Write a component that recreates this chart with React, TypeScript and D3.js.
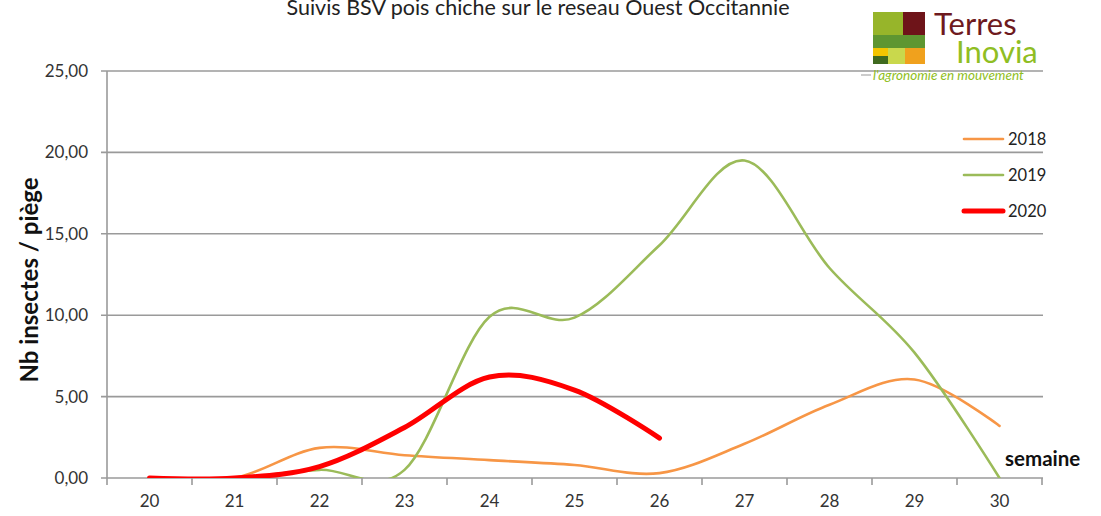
import React from "react";
import * as d3 from "d3";

const weeks = ["20", "21", "22", "23", "24", "25", "26", "27", "28", "29", "30"];
const s2018 = [0, 0, 1.85, 1.4, 1.1, 0.8, 0.3, 2.1, 4.5, 6.05, 3.2];
const s2019 = [0, 0, 0.5, 0.5, 9.9, 9.85, 14.3, 19.5, 12.9, 7.7, 0];
const s2020 = [0, 0, 0.7, 3.1, 6.2, 5.4, 2.45];
const yTicks = [0, 5, 10, 15, 20, 25];
const seriesNames = ["2018", "2019", "2020"];
const seriesColors = ["#F79646", "#9BBB59", "#FF0000"];
const seriesWidths = [2.6, 2.6, 5];

const W = 1101;
const H = 516;
const FONT = "Lato, 'Open Sans', sans-serif";

export default function App() {
  const x = d3.scaleBand<string>().domain(weeks).range([107, 1042]).padding(0);
  const y = d3.scaleLinear().domain([0, 25]).range([478, 71]);
  const cx = (w: string) => (x(w) as number) + x.bandwidth() / 2;
  const line = d3
    .line<number>()
    .x((_, i) => cx(weeks[i]))
    .y((d) => y(d))
    .curve(d3.curveCatmullRom.alpha(0));
  const series = [s2018, s2019, s2020];
  const boundaries = d3.range(weeks.length + 1).map((i) => 107 + i * x.bandwidth());
  const fmt = (v: number) => v.toFixed(2).replace(".", ",");

  return (
    <svg width={W} height={H} style={{ position: "absolute", left: 0, top: 0, background: "#fff" }}>
      <defs>
        <clipPath id="plotClip">
          <rect x={107} y={40} width={940} height={438} />
        </clipPath>
      </defs>
      <rect x={0} y={0} width={W} height={H} fill="#fff" />
      {/* title (cut at top) */}
      <text x={538} y={15} textAnchor="middle" fontFamily={FONT} fontSize={21.5} fill="#222">
        Suivis BSV pois chiche sur le reseau Ouest Occitannie
      </text>
      {/* gridlines */}
      {yTicks.map((t) => (
        <line key={t} x1={101} x2={1043} y1={y(t)} y2={y(t)} stroke="#9a9a9a" strokeWidth={1.6} />
      ))}
      {/* y axis */}
      <line x1={107} x2={107} y1={71} y2={478} stroke="#9a9a9a" strokeWidth={1.6} />
      {yTicks.map((t) => (
        <text key={t} x={88} y={y(t)} dy="0.35em" textAnchor="end" fontFamily={FONT} fontSize={17} fill="#333">
          {fmt(t)}
        </text>
      ))}
      {/* x axis ticks */}
      {boundaries.map((b, i) => (
        <line key={i} x1={b} x2={b} y1={478} y2={485} stroke="#9a9a9a" strokeWidth={1.6} />
      ))}
      {weeks.map((w) => (
        <text key={w} x={cx(w)} y={501} dy="0.35em" textAnchor="middle" fontFamily={FONT} fontSize={17} fill="#333">
          {w}
        </text>
      ))}
      {/* y axis title */}
      <text
        transform="translate(38,280) rotate(-90)"
        textAnchor="middle"
        fontFamily={FONT}
        fontWeight="bold"
        fontSize={24}
        fill="#111"
      >
        Nb insectes / piège
      </text>
      <text x={1005} y={466} fontFamily={FONT} fontWeight="bold" fontSize={20.5} fill="#111">
        semaine
      </text>
      {/* series */}
      <g clipPath="url(#plotClip)">
        {series.map((s, i) => (
          <path
            key={i}
            d={line(s) as string}
            fill="none"
            stroke={seriesColors[i]}
            strokeWidth={seriesWidths[i]}
            strokeLinecap="round"
            strokeLinejoin="round"
          />
        ))}
      </g>
      {/* legend */}
      {seriesNames.map((n, i) => {
        const ly = 139 + i * 36;
        return (
          <g key={n}>
            <line x1={964} x2={1003} y1={ly} y2={ly} stroke={seriesColors[i]} strokeWidth={seriesWidths[i]} strokeLinecap="round" />
            <text x={1008} y={ly} dy="0.35em" fontFamily={FONT} fontSize={16.5} fill="#222">
              {n}
            </text>
          </g>
        );
      })}
      {/* logo */}
      <g>
        <rect x={873} y={12} width={30} height={23} fill="#97b52a" />
        <rect x={903} y={12} width={22} height={23} fill="#6e1419" />
        <rect x={873} y={35} width={52} height={13} fill="#5e9631" />
        <rect x={873} y={48} width={15} height={8} fill="#f2c500" />
        <rect x={873} y={56} width={15} height={8} fill="#3f6a1f" />
        <rect x={888} y={48} width={17} height={16} fill="#c9d84c" />
        <rect x={905} y={48} width={20} height={16} fill="#f0a11d" />
        <text x={934} y={35} fontFamily={FONT} fontSize={31} fill="#6e1a1e">Terres</text>
        <text x={956} y={63} fontFamily={FONT} fontSize={31} fill="#8fbe23">Inovia</text>
        <line x1={861} x2={871} y1={75} y2={75} stroke="#999" strokeWidth={1} />
        <text x={873} y={80} fontFamily={FONT} fontSize={13.5} fill="#8fbe23" fontStyle="italic">
          l'agronomie en mouvement
        </text>
      </g>
    </svg>
  );
}
